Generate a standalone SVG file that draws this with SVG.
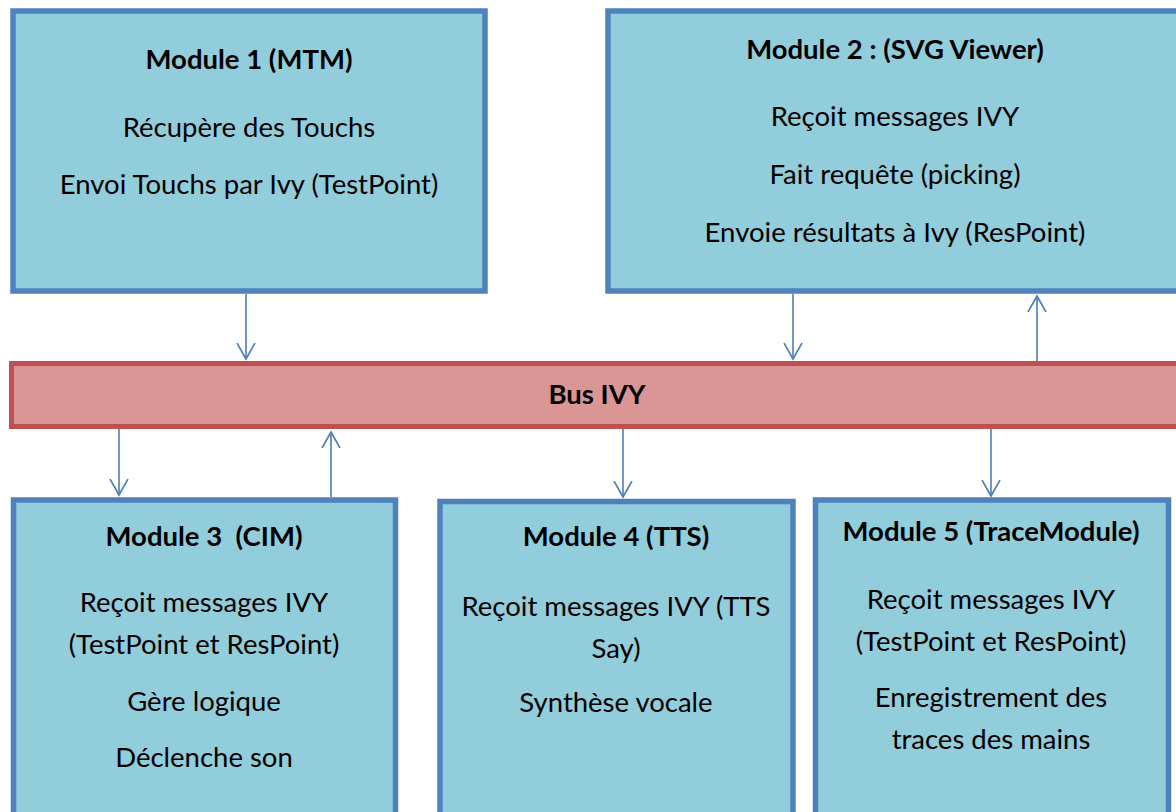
<svg xmlns="http://www.w3.org/2000/svg" width="1176" height="812" viewBox="0 0 1176 812">
<defs>
<style>
.box{fill:#92CDDC;stroke:#4F81BD;stroke-width:5.5}
.bus{fill:#D99694;stroke:#C0504D;stroke-width:5}
.t{font-family:Lato,"Open Sans","Liberation Sans",sans-serif;font-size:27.5px;fill:#000;text-anchor:middle}
.b{font-weight:bold}
.c{stroke:#4A7EBB;stroke-width:1.6;fill:none}
</style>
<marker id="ah" viewBox="0 0 20 20" refX="16" refY="10" markerWidth="20" markerHeight="20" markerUnits="userSpaceOnUse" orient="auto">
<path d="M0,1 L16,10 L0,19" fill="none" stroke="#4A7EBB" stroke-width="1.6"/>
</marker>
</defs>
<rect width="1176" height="812" fill="#fff"/>
<g id="module1">
<rect class="box" x="13" y="11" width="472" height="280"/>
<text class="t b" x="249" y="69">Module 1 (MTM)</text>
<text class="t" x="249" y="137">Récupère des Touchs</text>
<text class="t" x="249" y="194">Envoi Touchs par Ivy (TestPoint)</text>
</g>
<g id="module2">
<rect class="box" x="608" y="11" width="600" height="280"/>
<text class="t b" x="895" y="59">Module 2 : (SVG Viewer)</text>
<text class="t" x="895" y="126">Reçoit messages IVY</text>
<text class="t" x="895" y="184">Fait requête (picking)</text>
<text class="t" x="895" y="242">Envoie résultats à Ivy (ResPoint)</text>
</g>
<g id="bus">
<rect class="bus" x="11.5" y="363.5" width="1200" height="63"/>
<text class="t b" x="597" y="404">Bus IVY</text>
</g>
<g id="module3">
<rect class="box" x="13.5" y="500" width="382" height="330"/>
<text class="t b" x="204" y="546" xml:space="preserve">Module 3  (CIM)</text>
<text class="t" x="204" y="612">Reçoit messages IVY</text>
<text class="t" x="204" y="654">(TestPoint et ResPoint)</text>
<text class="t" x="204" y="711">Gère logique</text>
<text class="t" x="204" y="767">Déclenche son</text>
</g>
<g id="module4">
<rect class="box" x="440" y="501.5" width="353" height="330"/>
<text class="t b" x="616" y="546">Module 4 (TTS)</text>
<text class="t" x="616" y="616">Reçoit messages IVY (TTS</text>
<text class="t" x="616" y="658">Say)</text>
<text class="t" x="616" y="712">Synthèse vocale</text>
</g>
<g id="module5">
<rect class="box" x="815.5" y="500" width="353" height="330"/>
<text class="t b" x="991" y="541">Module 5 (TraceModule)</text>
<text class="t" x="991" y="609">Reçoit messages IVY</text>
<text class="t" x="991" y="651">(TestPoint et ResPoint)</text>
<text class="t" x="991" y="707">Enregistrement des</text>
<text class="t" x="991" y="749">traces des mains</text>
</g>
<g id="connectors">
<line class="c" x1="246" y1="294" x2="246" y2="359" marker-end="url(#ah)"/>
<line class="c" x1="793" y1="294" x2="793" y2="359" marker-end="url(#ah)"/>
<line class="c" x1="1037" y1="362" x2="1037" y2="296" marker-end="url(#ah)"/>
<line class="c" x1="119" y1="429" x2="119" y2="495" marker-end="url(#ah)"/>
<line class="c" x1="331" y1="497" x2="331" y2="432" marker-end="url(#ah)"/>
<line class="c" x1="623" y1="429" x2="623" y2="497" marker-end="url(#ah)"/>
<line class="c" x1="991" y1="429" x2="991" y2="496" marker-end="url(#ah)"/>
</g>
</svg>
